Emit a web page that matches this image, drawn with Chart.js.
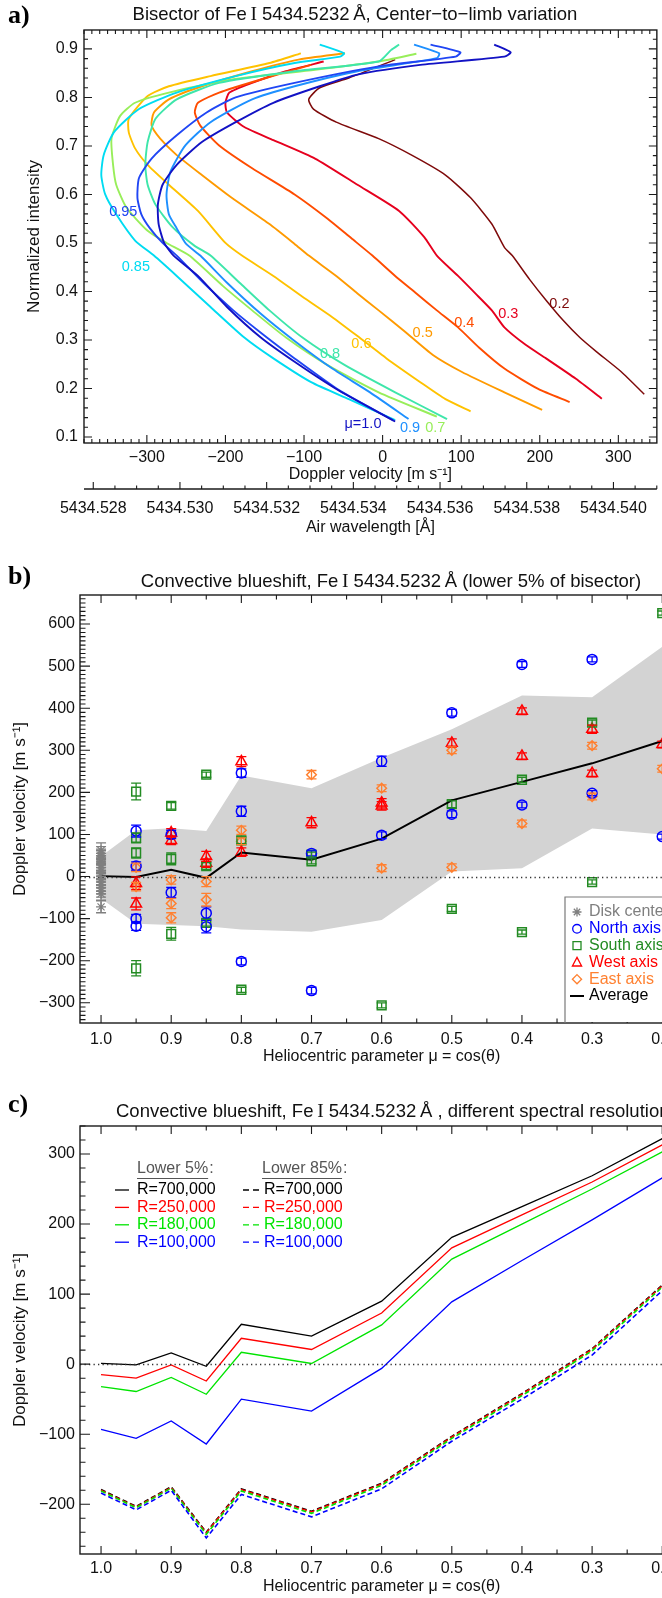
<!DOCTYPE html>
<html>
<head>
<meta charset="utf-8">
<title>Fe I 5434.5232 Å bisectors and convective blueshift</title>
<script src="https://cdn.jsdelivr.net/npm/chart.js@4.4.1/dist/chart.umd.min.js"></script>
<style>
  html, body { margin: 0; padding: 0; background: #fff; overflow: hidden; }
  #page { position: relative; width: 662px; height: 1598px; overflow: hidden; }
  #page canvas { position: absolute; left: 0; }
</style>
</head>
<body>
<div id="page">
  <canvas id="panelA" width="662" height="560" style="top:0px"></canvas>
  <canvas id="panelB" width="700" height="510" style="top:560px"></canvas>
  <canvas id="panelC" width="700" height="528" style="top:1070px"></canvas>
</div>
<script>
// ---------------------------------------------------------------------------
// Panel a: line bisectors, pairs of [Doppler velocity (m/s), normalized intensity]
// ---------------------------------------------------------------------------
const bisMu100 = [[16,0.132],[-59,0.199],[-112,0.255],[-155,0.305],[-198,0.368],[-235,0.432],[-266,0.474],[-278,0.50],[-285,0.539],[-286,0.579],[-280,0.620],[-262,0.661],[-230,0.708],[-187,0.749],[-139,0.789],[-80,0.823],[-32,0.847],[48,0.867],[155,0.884],[163,0.893],[142,0.909]];
const bisMu095 = [[13,0.135],[-54,0.195],[-112,0.262],[-155,0.315],[-190,0.361],[-228,0.418],[-262,0.474],[-280,0.500],[-296,0.530],[-307,0.559],[-312,0.593],[-310,0.634],[-294,0.674],[-262,0.722],[-224,0.769],[-187,0.800],[-112,0.830],[-5,0.864],[93,0.884],[99,0.893],[61,0.909]];
const bisMu090 = [[33,0.137],[-16,0.192],[-64,0.241],[-112,0.298],[-155,0.354],[-198,0.418],[-232,0.474],[-250,0.498],[-262,0.530],[-272,0.559],[-275,0.600],[-270,0.647],[-251,0.701],[-219,0.749],[-166,0.796],[-112,0.823],[-32,0.854],[69,0.881],[72,0.891],[40,0.909]];
const bisMu085 = [[16,0.135],[-43,0.178],[-91,0.213],[-139,0.262],[-176,0.305],[-219,0.368],[-262,0.432],[-291,0.474],[-315,0.505],[-339,0.559],[-353,0.600],[-358,0.640],[-355,0.681],[-342,0.728],[-310,0.776],[-262,0.810],[-187,0.844],[-112,0.871],[-54,0.884],[-49,0.891],[-80,0.909]];
const bisMu080 = [[82,0.137],[16,0.192],[-48,0.248],[-102,0.305],[-144,0.361],[-182,0.418],[-219,0.474],[-240,0.495],[-267,0.532],[-289,0.579],[-299,0.620],[-302,0.661],[-299,0.708],[-289,0.756],[-262,0.796],[-208,0.830],[-112,0.854],[-5,0.874],[11,0.898],[21,0.909]];
const bisMu070 = [[69,0.142],[-5,0.192],[-70,0.248],[-123,0.305],[-166,0.361],[-203,0.411],[-246,0.474],[-275,0.500],[-299,0.525],[-326,0.573],[-339,0.620],[-343,0.661],[-345,0.715],[-334,0.762],[-315,0.789],[-272,0.810],[-192,0.837],[-86,0.857],[-5,0.874],[43,0.890]];
const bisMu060 = [[112,0.153],[80,0.178],[48,0.213],[5,0.262],[-32,0.308],[-64,0.347],[-102,0.389],[-139,0.432],[-179,0.474],[-200,0.500],[-235,0.566],[-272,0.620],[-299,0.661],[-315,0.695],[-323,0.728],[-323,0.756],[-299,0.803],[-272,0.823],[-219,0.844],[-144,0.871],[-104,0.891]];
const bisMu050 = [[203,0.156],[155,0.192],[101,0.234],[64,0.269],[27,0.319],[-5,0.361],[-32,0.396],[-59,0.432],[-94,0.474],[-112,0.498],[-144,0.539],[-192,0.593],[-230,0.640],[-262,0.681],[-283,0.715],[-294,0.742],[-291,0.769],[-272,0.796],[-230,0.823],[-166,0.854],[-107,0.878],[-48,0.891]];
const bisMu040 = [[238,0.172],[198,0.199],[155,0.241],[123,0.284],[96,0.326],[69,0.361],[43,0.396],[16,0.432],[-13,0.474],[-40,0.510],[-70,0.550],[-112,0.600],[-166,0.654],[-208,0.701],[-232,0.742],[-239,0.769],[-235,0.789],[-208,0.810],[-155,0.837],[-91,0.867]];
const bisMu030 = [[279,0.179],[246,0.220],[208,0.262],[182,0.290],[155,0.326],[139,0.361],[118,0.396],[96,0.432],[69,0.474],[53,0.512],[21,0.566],[-32,0.620],[-86,0.674],[-139,0.712],[-176,0.739],[-198,0.769],[-200,0.789],[-195,0.810],[-166,0.830],[-123,0.854],[-75,0.874]];
const bisMu020 = [[333,0.188],[304,0.234],[272,0.276],[251,0.305],[230,0.340],[208,0.382],[187,0.425],[165,0.474],[155,0.491],[139,0.539],[112,0.593],[80,0.640],[37,0.681],[-5,0.715],[-59,0.749],[-88,0.776],[-94,0.796],[-80,0.820],[-43,0.840],[16,0.878]];

const bisectorSets   = [bisMu100, bisMu095, bisMu090, bisMu085, bisMu080, bisMu070, bisMu060, bisMu050, bisMu040, bisMu030, bisMu020];
const bisectorColors = ['#1212c4', '#2046f4', '#1e90ff', '#00dcf2', '#3ee6aa', '#98ee5a', '#ffc200', '#ff9a00', '#ff4c00', '#e6001e', '#7e0a0a'];

// curve annotations: text and anchor in data units (velocity, intensity)
const curveLabelText = ['\u03bc=1.0', '0.95', '0.9', '0.85', '0.8', '0.7', '0.6', '0.5', '0.4', '0.3', '0.2'];
const curveLabelVel  = [-25, -330, 35, -314, -67, 67, -27, 51, 104, 160, 225];
const curveLabelInt  = [0.127, 0.564, 0.119, 0.450, 0.271, 0.119, 0.292, 0.314, 0.335, 0.354, 0.374];

const velTicks       = [-300, -200, -100, 0, 100, 200, 300];
const intensityTicks = [0.1, 0.2, 0.3, 0.4, 0.5, 0.6, 0.7, 0.8, 0.9];
const wlTicks        = [5434.528, 5434.530, 5434.532, 5434.534, 5434.536, 5434.538, 5434.540];

// Velocity -> air wavelength (rest wavelength shifted by gravitational redshift)
const LAMBDA0 = 5434.5232, V_GRAV = 633, C_LIGHT = 299792458;
const toWavelength = v => LAMBDA0 * (1 + (v + V_GRAV) / C_LIGHT);
const VEL_MIN = -380, VEL_MAX = 349;

// ---------------------------------------------------------------------------
// Panel b: convective blueshift per axis (lower 5% of bisector)
// ---------------------------------------------------------------------------
const muGrid    = [1.0, 0.95, 0.9, 0.85, 0.8, 0.7, 0.6, 0.5, 0.4, 0.3, 0.2];
const muTicks   = [1.0, 0.9, 0.8, 0.7, 0.6, 0.5, 0.4, 0.3, 0.2];
const avgVel    = [1, -1, 16, -3, 57, 40, 90, 181, 225, 269, 322];
const bandUpper = [48, 110, 115, 108, 240, 210, 282, 350, 430, 426, 546];
const bandLower = [-52, -112, -115, -118, -126, -131, -103, 12, 20, 114, 100];

const diskMu  = [1, 1, 1, 1, 1, 1, 1, 1, 1, 1, 1, 1, 1, 1, 1, 1, 1, 1];
const diskVel = [62, 55, 50, 46, 41, 35, 28, 21, 14, 7, 1, -6, -13, -20, -27, -34, -41, -72];
const diskErr = [18, 16, 15, 15, 14, 14, 15, 14, 14, 15, 14, 15, 14, 15, 14, 15, 15, 14];

const northMu  = [0.95, 0.95, 0.95, 0.95, 0.9, 0.9, 0.85, 0.85, 0.8, 0.8, 0.8, 0.7, 0.7, 0.6, 0.6, 0.5, 0.5, 0.4, 0.4, 0.3, 0.3, 0.2];
const northVel = [108, 25, -100, -118, 100, -38, -87, -119, 246, 155, -202, 55, -271, 274, 98, 389, 148, 504, 170, 516, 198, 95];
const northErr = [14, 10, 10, 10, 10, 12, 15, 15, 10, 12, 8, 6, 8, 12, 8, 8, 8, 7, 7, 6, 6, 6];

const southMu  = [0.95, 0.95, 0.95, 0.95, 0.9, 0.9, 0.9, 0.85, 0.85, 0.85, 0.8, 0.8, 0.7, 0.7, 0.6, 0.5, 0.5, 0.4, 0.4, 0.3, 0.3, 0.2];
const southVel = [202, 92, 56, -218, 168, 42, -136, 242, 25, -110, 86, -269, 52, 36, -306, 172, -77, 230, -132, 366, -13, 626];
const southErr = [20, 12, 12, 18, 8, 14, 15, 6, 8, 8, 8, 6, 6, 6, 6, 8, 6, 6, 5, 6, 5, 5];

const westMu  = [0.95, 0.95, 0.9, 0.9, 0.85, 0.85, 0.8, 0.8, 0.7, 0.6, 0.6, 0.5, 0.4, 0.4, 0.3, 0.3, 0.2];
const westVel = [-16, -65, 104, 86, 48, 32, 273, 58, 128, 175, 168, 317, 393, 286, 350, 245, 314];
const westErr = [15, 14, 10, 10, 12, 10, 12, 10, 12, 10, 10, 10, 8, 8, 10, 8, 8];

const eastMu  = [0.95, 0.95, 0.9, 0.9, 0.9, 0.85, 0.85, 0.8, 0.8, 0.7, 0.6, 0.6, 0.5, 0.5, 0.4, 0.3, 0.3, 0.2];
const eastVel = [22, -24, -8, -64, -98, -12, -55, 110, 84, 242, 210, 20, 300, 22, 126, 311, 190, 256];
const eastErr = [10, 10, 10, 12, 12, 12, 15, 10, 8, 10, 8, 8, 8, 8, 8, 8, 8, 8];

const velTicksB = [-300, -200, -100, 0, 100, 200, 300, 400, 500, 600];

// ---------------------------------------------------------------------------
// Panel c: blueshift for different spectral resolutions
// ---------------------------------------------------------------------------
const res700Lower5  = avgVel;
const res250Lower5  = [-15, -20, -1, -24, 37, 21, 73, 166, 213, 260, 313];
const res180Lower5  = [-32, -39, -19, -43, 17, 1, 56, 150, 200, 250, 303];
const res100Lower5  = [-93, -106, -81, -114, -50, -67, -6, 89, 148, 206, 266];
const res700Lower85 = [-179, -203, -175, -240, -178, -210, -170, -103, -42, 22, 113];
const res250Lower85 = [-180, -204, -176, -241, -179, -211, -171, -104, -43, 21, 112];
const res180Lower85 = [-181, -205, -177, -243, -181, -213, -173, -106, -45, 19, 110];
const res100Lower85 = [-184, -208, -180, -248, -186, -218, -178, -110, -50, 13, 105];
const resolutionLabels = ['R=700,000', 'R=250,000', 'R=180,000', 'R=100,000'];
const resolutionColors = ['#000000', '#ff0000', '#00e400', '#0000ff'];
const velTicksC = [-200, -100, 0, 100, 200, 300];

// ---------------------------------------------------------------------------
// Shared styling
// ---------------------------------------------------------------------------
const SANS  = "'Liberation Sans', Arial, Helvetica, sans-serif";
const SERIF = "'Liberation Serif', 'Times New Roman', Times, serif";
Chart.defaults.font.family = SANS;
Chart.defaults.font.size = 16;
Chart.defaults.color = '#000';
Chart.defaults.animation = false;
Chart.defaults.events = [];
Chart.defaults.plugins.legend.display = false;
Chart.defaults.plugins.tooltip.enabled = false;

const fmtInt = v => (v < 0 ? '\u2212' + Math.abs(v) : String(v));
const toPts = (xs, ys) => xs.map((x, i) => ({ x: x, y: ys[i] }));

function stepValues(min, max, step) {
  const out = [];
  const k0 = Math.ceil(min / step - 1e-6), k1 = Math.floor(max / step + 1e-6);
  for (let k = k0; k <= k1; k++) out.push(k * step);
  return out;
}
const isOneOf = (v, list, tol) => list.some(m => Math.abs(m - v) < tol);

function axis(o) {
  return {
    type: 'linear', position: o.position, min: o.min, max: o.max,
    reverse: !!o.reverse, weight: o.weight || 0,
    afterBuildTicks: s => { s.ticks = o.ticks.map(v => ({ value: v })); },
    afterFit: s => { if (o.position === 'left') s.width = o.size; else s.height = o.size; },
    grid: { display: false, drawTicks: false },
    border: { display: false },
    ticks: { padding: o.pad, autoSkip: false, maxRotation: 0, minRotation: 0, callback: o.fmt, color: '#111' },
    title: { display: true, text: o.title, padding: o.titlePad, color: '#111',
             font: { size: o.position === 'left' ? 17 : 16 } }
  };
}

// Frame, inward tick marks, zero line, error bars and the secondary wavelength axis
const decor = {
  id: 'decor',
  afterDatasetsDraw(chart, args, o) {
    const ctx = chart.ctx, a = chart.chartArea, xs = chart.scales.x, ys = chart.scales.y;
    ctx.save();
    if (o.zeroLine) {
      const y0 = Math.round(ys.getPixelForValue(0)) + 0.5;
      ctx.setLineDash([1.3, 3.2]);
      ctx.strokeStyle = '#333'; ctx.lineWidth = 1.3;
      ctx.beginPath(); ctx.moveTo(a.left, y0); ctx.lineTo(a.right, y0); ctx.stroke();
      ctx.setLineDash([]);
    }
    chart.data.datasets.forEach((ds, i) => {
      if (!ds.errors) return;
      ctx.strokeStyle = ds.borderColor; ctx.lineWidth = 1.3;
      ctx.beginPath();
      ds.data.forEach((p, j) => {
        const e = ds.errors[j], x = xs.getPixelForValue(p.x);
        const yT = ys.getPixelForValue(p.y + e), yB = ys.getPixelForValue(p.y - e);
        ctx.moveTo(x, yT); ctx.lineTo(x, yB);
        ctx.moveTo(x - o.cap, yT); ctx.lineTo(x + o.cap, yT);
        ctx.moveTo(x - o.cap, yB); ctx.lineTo(x + o.cap, yB);
      });
      ctx.stroke();
    });
    ctx.strokeStyle = '#1a1a1a'; ctx.lineWidth = 1.4;
    ctx.strokeRect(a.left, a.top, a.right - a.left, a.bottom - a.top);
    ctx.lineWidth = 1.1;
    ctx.beginPath();
    stepValues(Math.min(xs.min, xs.max), Math.max(xs.min, xs.max), o.xMinorStep).forEach(v => {
      const len = isOneOf(v, o.xMajor, o.xMinorStep * 1e-3) ? o.xLen[0] : o.xLen[1];
      const x = xs.getPixelForValue(v);
      ctx.moveTo(x, a.bottom); ctx.lineTo(x, a.bottom - len);
      ctx.moveTo(x, a.top); ctx.lineTo(x, a.top + len);
    });
    stepValues(ys.min, ys.max, o.yMinorStep).forEach(v => {
      const len = isOneOf(v, o.yMajor, o.yMinorStep * 1e-3) ? o.yLen[0] : o.yLen[1];
      const y = ys.getPixelForValue(v);
      ctx.moveTo(a.left, y); ctx.lineTo(a.left + len, y);
      ctx.moveTo(a.right, y); ctx.lineTo(a.right - len, y);
    });
    ctx.stroke();
    if (o.wavelength) {
      const ws = chart.scales.wl, w = o.wavelength;
      const yl = ws.top + w.offset;
      ctx.lineWidth = 1.4;
      ctx.beginPath(); ctx.moveTo(a.left, yl); ctx.lineTo(a.right, yl); ctx.stroke();
      ctx.lineWidth = 1.1;
      ctx.beginPath();
      stepValues(ws.min, ws.max, w.minorStep).forEach(v => {
        const len = isOneOf(v, w.ticks, w.minorStep * 1e-2) ? w.len[0] : w.len[1];
        const x = ws.getPixelForValue(v);
        ctx.moveTo(x, yl); ctx.lineTo(x, yl - len);
      });
      ctx.stroke();
    }
    ctx.restore();
  }
};

// Panel letter and title with the spectroscopic "I" set in a serif face
const panelTitle = {
  id: 'panelTitle',
  afterDraw(chart, args, o) {
    if (!o.segments) return;
    const ctx = chart.ctx;
    ctx.save();
    ctx.fillStyle = '#000'; ctx.textBaseline = 'middle'; ctx.textAlign = 'left';
    ctx.font = 'bold 26px ' + SERIF;
    ctx.fillText(o.letter, o.letterX, o.letterY);
    const fonts = o.segments.map(s => (s.serif ? '19.5px ' + SERIF : '18.5px ' + SANS));
    const widths = o.segments.map((s, i) => { ctx.font = fonts[i]; return ctx.measureText(s.text).width; });
    const total = widths.reduce((p, q) => p + q, 0);
    let x = o.align === 'center' ? o.x - total / 2 : o.x;
    ctx.fillStyle = '#111';
    o.segments.forEach((s, i) => { ctx.font = fonts[i]; ctx.fillText(s.text, x, o.y); x += widths[i]; });
    ctx.restore();
  }
};

// Curve annotations placed in data coordinates
const curveLabels = {
  id: 'curveLabels',
  afterDatasetsDraw(chart, args, o) {
    if (!o.text) return;
    const ctx = chart.ctx, xs = chart.scales.x, ys = chart.scales.y;
    ctx.save();
    ctx.font = '14.5px ' + SANS; ctx.textAlign = 'center'; ctx.textBaseline = 'middle';
    o.text.forEach((t, i) => {
      ctx.fillStyle = o.colors[i];
      ctx.fillText(t, xs.getPixelForValue(o.vel[i]), ys.getPixelForValue(o.inten[i]));
    });
    ctx.restore();
  }
};

function drawSymbol(ctx, kind, x, y) {
  ctx.beginPath();
  if (kind === 'star') {
    for (let k = 0; k < 4; k++) {
      const ang = k * Math.PI / 4;
      ctx.moveTo(x - 4.5 * Math.cos(ang), y - 4.5 * Math.sin(ang));
      ctx.lineTo(x + 4.5 * Math.cos(ang), y + 4.5 * Math.sin(ang));
    }
  } else if (kind === 'circle') {
    ctx.arc(x, y, 4.3, 0, Math.PI * 2);
  } else if (kind === 'rect') {
    ctx.rect(x - 4, y - 4, 8, 8);
  } else if (kind === 'triangle') {
    ctx.moveTo(x, y - 5); ctx.lineTo(x + 4.6, y + 3.6); ctx.lineTo(x - 4.6, y + 3.6); ctx.closePath();
  } else if (kind === 'rectRot') {
    ctx.moveTo(x, y - 4.6); ctx.lineTo(x + 4.6, y); ctx.lineTo(x, y + 4.6); ctx.lineTo(x - 4.6, y); ctx.closePath();
  } else if (kind === 'line') {
    ctx.moveTo(x - 7, y); ctx.lineTo(x + 7, y);
  }
  ctx.stroke();
}

// Boxed legend of panel b, listed from the datasets flagged with legendSymbol
const axisLegend = {
  id: 'axisLegend',
  afterDraw(chart, args, o) {
    if (!o.enabled) return;
    const ctx = chart.ctx, a = chart.chartArea;
    const items = chart.data.datasets.filter(d => d.legendSymbol);
    ctx.save();
    ctx.fillStyle = '#fff';
    ctx.fillRect(o.x, o.y, chart.width - o.x, a.bottom - o.y - 1);
    ctx.strokeStyle = '#7a7a7a'; ctx.lineWidth = 1.2;
    ctx.beginPath();
    ctx.moveTo(o.x, a.bottom); ctx.lineTo(o.x, o.y); ctx.lineTo(chart.width, o.y);
    ctx.stroke();
    ctx.font = '16px ' + SANS; ctx.textBaseline = 'middle'; ctx.textAlign = 'left';
    items.forEach((d, i) => {
      const y = o.y + o.first + i * o.step;
      ctx.strokeStyle = d.legendColor; ctx.lineWidth = d.legendSymbol === 'line' ? 2 : 1.3;
      drawSymbol(ctx, d.legendSymbol, o.x + o.symX, y);
      ctx.fillStyle = d.legendColor;
      ctx.fillText(d.label, o.x + o.textX, y);
    });
    ctx.restore();
  }
};

// Two-column legend of panel c (solid = lower 5 %, dashed = lower 85 %)
const resolutionLegend = {
  id: 'resolutionLegend',
  afterDraw(chart, args, o) {
    if (!o.columns) return;
    const ctx = chart.ctx;
    ctx.save();
    ctx.font = '16px ' + SANS; ctx.textBaseline = 'middle'; ctx.textAlign = 'left';
    o.columns.forEach(col => {
      ctx.fillStyle = '#555'; ctx.strokeStyle = '#555'; ctx.lineWidth = 1;
      ctx.fillText(col.header, col.headX, o.headY);
      const hw = ctx.measureText(col.header).width;
      ctx.beginPath(); ctx.moveTo(col.headX, o.headY + 9.5); ctx.lineTo(col.headX + hw, o.headY + 9.5); ctx.stroke();
      ctx.fillText(':', col.headX + hw + 1, o.headY);
      o.labels.forEach((t, i) => {
        const y = o.rowY + i * o.rowStep;
        ctx.strokeStyle = o.colors[i]; ctx.lineWidth = 1.3;
        ctx.setLineDash(col.dash);
        ctx.beginPath(); ctx.moveTo(col.lineX0, y); ctx.lineTo(col.lineX1, y); ctx.stroke();
        ctx.setLineDash([]);
        ctx.fillStyle = o.colors[i];
        ctx.fillText(t, col.textX, y);
      });
    });
    ctx.restore();
  }
};

const plugins = [decor, curveLabels, panelTitle, axisLegend, resolutionLegend];

// ---------------------------------------------------------------------------
// Panel a
// ---------------------------------------------------------------------------
new Chart(document.getElementById('panelA'), {
  type: 'scatter',
  plugins: plugins,
  data: {
    datasets: bisectorSets.map((set, i) => ({
      data: set.map(p => ({ x: p[0], y: p[1] })),
      showLine: true, borderColor: bisectorColors[i], borderWidth: i === 10 ? 1.5 : 1.9,
      pointRadius: 0, tension: 0.2, fill: false
    }))
  },
  options: {
    responsive: false, devicePixelRatio: 1,
    layout: { padding: { left: 0, right: 2.5, top: 30, bottom: 22.4 } },
    scales: {
      x: axis({ position: 'bottom', min: VEL_MIN, max: VEL_MAX, ticks: velTicks, size: 41.6, pad: 5,
                fmt: v => fmtInt(v), title: 'Doppler velocity [m s\u207b\u00b9]', titlePad: { top: 0, bottom: 0 } }),
      wl: axis({ position: 'bottom', weight: 1, min: toWavelength(VEL_MIN), max: toWavelength(VEL_MAX), ticks: wlTicks,
                 size: 53, pad: 14.8, fmt: v => v.toFixed(3), title: 'Air wavelength [\u00c5]', titlePad: { top: 0, bottom: 0 } }),
      y: axis({ position: 'left', min: 0.0876, max: 0.939, ticks: intensityTicks, size: 84, pad: 6,
                fmt: v => v.toFixed(1), title: 'Normalized intensity', titlePad: { top: 24.5, bottom: 0 } })
    },
    plugins: {
      decor: { xMajor: velTicks, xMinorStep: 10, yMajor: intensityTicks, yMinorStep: 0.02, xLen: [8, 4], yLen: [8, 4],
               wavelength: { ticks: wlTicks, minorStep: 0.0005, len: [7, 3.5], offset: 4.4 } },
      curveLabels: { text: curveLabelText, vel: curveLabelVel, inten: curveLabelInt, colors: bisectorColors },
      panelTitle: { letter: 'a)', letterX: 8, letterY: 16, x: 355, y: 15, align: 'center',
                    segments: [{ text: 'Bisector of Fe\u2009' }, { text: 'I', serif: true },
                               { text: ' 5434.5232\u2009\u00c5, Center\u2212to\u2212limb variation' }] }
    }
  }
});

// ---------------------------------------------------------------------------
// Panel b
// ---------------------------------------------------------------------------
function markerSet(label, xs, ys, errs, style, radius, color, width) {
  return { label: label, data: toPts(xs, ys), errors: errs, showLine: false, pointStyle: style,
           pointRadius: radius, pointBorderColor: color, borderColor: color, pointBorderWidth: width,
           pointBackgroundColor: 'rgba(0,0,0,0)', legendSymbol: style, legendColor: color, order: 2 };
}

new Chart(document.getElementById('panelB'), {
  type: 'scatter',
  plugins: plugins,
  data: {
    datasets: [
      { data: toPts(muGrid, bandUpper), showLine: true, fill: '+1', backgroundColor: '#d3d3d3',
        borderColor: 'rgba(0,0,0,0)', borderWidth: 1, pointRadius: 0, order: 9 },
      { data: toPts(muGrid, bandLower), showLine: true, fill: false,
        borderColor: 'rgba(0,0,0,0)', borderWidth: 1, pointRadius: 0, order: 9 },
      markerSet('Disk center', diskMu, diskVel, diskErr, 'star', 5, '#7f7f7f', 1.2),
      markerSet('North axis', northMu, northVel, northErr, 'circle', 5, '#0000ff', 1.5),
      markerSet('South axis', southMu, southVel, southErr, 'rect', 6.2, '#238b23', 1.5),
      markerSet('West axis', westMu, westVel, westErr, 'triangle', 6.2, '#ff0000', 1.5),
      markerSet('East axis', eastMu, eastVel, eastErr, 'rectRot', 4.8, '#ff8030', 1.5),
      { label: 'Average', data: toPts(muGrid, avgVel), showLine: true, borderColor: '#000', borderWidth: 2,
        pointRadius: 0, fill: false, legendSymbol: 'line', legendColor: '#000', order: 1 }
    ]
  },
  options: {
    responsive: false, devicePixelRatio: 1,
    layout: { padding: { left: 0, right: 16.7, top: 35, bottom: 3.4 } },
    scales: {
      x: axis({ position: 'bottom', min: 0.17, max: 1.03, reverse: true, ticks: muTicks, size: 43.6, pad: 7.4,
                fmt: v => v.toFixed(1), title: 'Heliocentric parameter \u03bc = cos(\u03b8)', titlePad: { top: 0, bottom: 0 } }),
      y: axis({ position: 'left', min: -348, max: 669, ticks: velTicksB, size: 80, pad: 5,
                fmt: v => fmtInt(v), title: 'Doppler velocity [m s\u207b\u00b9]', titlePad: { top: 10, bottom: 0 } })
    },
    plugins: {
      decor: { xMajor: muTicks, xMinorStep: 0.05, yMajor: velTicksB, yMinorStep: 10, xLen: [8, 4.5], yLen: [10, 5.5],
               zeroLine: true, cap: 5 },
      axisLegend: { enabled: true, x: 565, y: 337, first: 15, step: 16.8, symX: 12, textX: 24 },
      panelTitle: { letter: 'b)', letterX: 8, letterY: 17, x: 391, y: 22, align: 'center',
                    segments: [{ text: 'Convective blueshift, Fe\u2009' }, { text: 'I', serif: true },
                               { text: ' 5434.5232\u2009\u00c5 (lower 5% of bisector)' }] }
    }
  }
});

// ---------------------------------------------------------------------------
// Panel c
// ---------------------------------------------------------------------------
const lower5Sets  = [res700Lower5, res250Lower5, res180Lower5, res100Lower5];
const lower85Sets = [res700Lower85, res250Lower85, res180Lower85, res100Lower85];
const panelCSets = [];
[3, 2, 1, 0].forEach(i => panelCSets.push({ data: toPts(muGrid, lower85Sets[i]), showLine: true, borderColor: resolutionColors[i],
  borderWidth: 1.6, borderDash: [5, 3], pointRadius: 0, fill: false }));
[3, 2, 1, 0].forEach(i => panelCSets.push({ data: toPts(muGrid, lower5Sets[i]), showLine: true, borderColor: resolutionColors[i],
  borderWidth: 1.3, pointRadius: 0, fill: false }));

new Chart(document.getElementById('panelC'), {
  type: 'scatter',
  plugins: plugins,
  data: { datasets: panelCSets },
  options: {
    responsive: false, devicePixelRatio: 1,
    layout: { padding: { left: 0, right: 16.7, top: 56, bottom: 1.4 } },
    scales: {
      x: axis({ position: 'bottom', min: 0.17, max: 1.03, reverse: true, ticks: muTicks, size: 42.6, pad: 5.4,
                fmt: v => v.toFixed(1), title: 'Heliocentric parameter \u03bc = cos(\u03b8)', titlePad: { top: 0, bottom: 0 } }),
      y: axis({ position: 'left', min: -271, max: 340, ticks: velTicksC, size: 80, pad: 5,
                fmt: v => fmtInt(v), title: 'Doppler velocity [m s\u207b\u00b9]', titlePad: { top: 10, bottom: 0 } })
    },
    plugins: {
      decor: { xMajor: muTicks, xMinorStep: 0.05, yMajor: velTicksC, yMinorStep: 20, xLen: [8, 4.5], yLen: [10, 5.5],
               zeroLine: true, cap: 5 },
      resolutionLegend: {
        headY: 99, rowY: 120, rowStep: 17.4, labels: resolutionLabels, colors: resolutionColors,
        columns: [
          { header: 'Lower 5%', headX: 137, lineX0: 115, lineX1: 129, textX: 137, dash: [] },
          { header: 'Lower 85%', headX: 262, lineX0: 243, lineX1: 261, textX: 264, dash: [6, 4] }
        ]
      },
      panelTitle: { letter: 'c)', letterX: 8, letterY: 35, x: 116, y: 42, align: 'left',
                    segments: [{ text: 'Convective blueshift, Fe\u2009' }, { text: 'I', serif: true },
                               { text: ' 5434.5232\u2009\u00c5 , different spectral resolution' }] }
    }
  }
});
</script>
</body>
</html>
